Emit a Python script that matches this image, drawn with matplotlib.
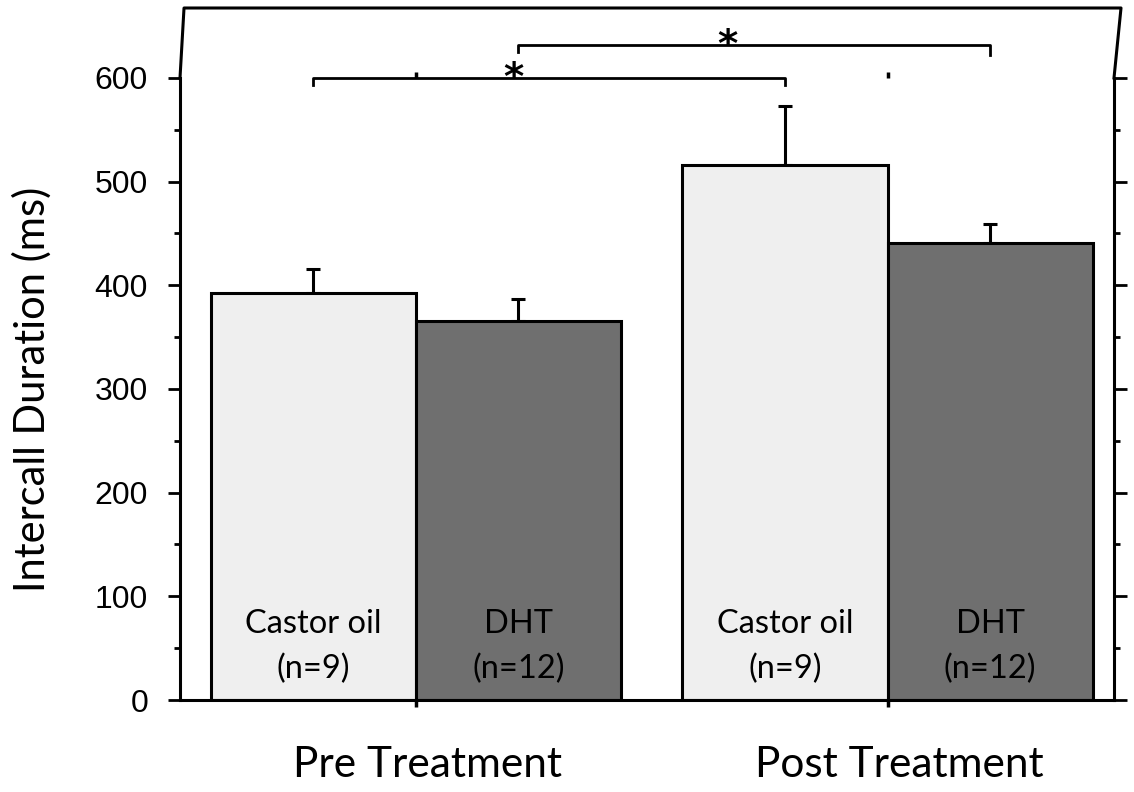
import numpy as np
import matplotlib.pyplot as plt

# Data
groups = ["Pre Treatment", "Post Treatment"]
castor_mean = [393, 516]
castor_err = [23, 57]
dht_mean = [366, 441]
dht_err = [21, 18]
castor_label = ["Castor oil", "(n=9)"]
dht_label = ["DHT", "(n=12)"]
sig_pairs = [(0, 1, 600), (0, 1, 632)]  # (pre idx, post idx, bracket height)

light = "#efefef"
dark = "#6f6f6f"
width = 0.435

fig = plt.figure(figsize=(11.34, 7.92), dpi=100)
ax = fig.add_axes([180 / 1134, 92 / 792, (1114 - 180) / 1134, (700 - 8) / 792])

x = np.arange(len(groups))
xc = x - width / 2
xd = x + width / 2

ax.bar(xc, castor_mean, width, color=light, edgecolor="black", linewidth=2.2, zorder=2)
ax.bar(xd, dht_mean, width, color=dark, edgecolor="black", linewidth=2.2, zorder=2)
ax.errorbar(xc, castor_mean, yerr=[np.zeros(2), castor_err], fmt="none", ecolor="black",
            elinewidth=2.2, capsize=5, capthick=2.2, zorder=1)
ax.errorbar(xd, dht_mean, yerr=[np.zeros(2), dht_err], fmt="none", ecolor="black",
            elinewidth=2.2, capsize=5, capthick=2.2, zorder=1)

# labels inside bars
for i in range(len(groups)):
    ax.text(xc[i], 73, castor_label[0], ha="center", va="center", fontsize=23.5, family="Lato")
    ax.text(xc[i], 30, castor_label[1], ha="center", va="center", fontsize=23.5, family="Lato")
    ax.text(xd[i], 73, dht_label[0], ha="center", va="center", fontsize=23.5, family="Lato")
    ax.text(xd[i], 30, dht_label[1], ha="center", va="center", fontsize=23.5, family="Lato")

# significance brackets
drop = 7
a, b, h = sig_pairs[0]
ax.plot([xc[a], xc[a], xc[b], xc[b]], [h - drop, h, h, h - drop], color="black", lw=2, clip_on=False)
ax.text((xc[a] + xc[b]) / 2 - 0.075, h - 12, "*", ha="center", va="baseline",
        fontsize=28, fontweight="bold")
a, b, h = sig_pairs[1]
ax.plot([xd[a], xd[a], xd[b], xd[b]], [h - drop, h, h, h - drop - 3], color="black", lw=2, clip_on=False)
ax.text((xd[a] + xd[b]) / 2 - 0.058, h - 12, "*", ha="center", va="baseline",
        fontsize=28, fontweight="bold")

# small top tick marks at 600
ax.vlines(x, 600, 606, color="black", lw=2.5)

ax.set_xlim(-0.5, 1.48)
ax.set_ylim(0, 667.5)
ax.set_yticks(np.arange(0, 601, 100))
ax.set_yticks(np.arange(50, 600, 100), minor=True)
ax.set_xticks(x)
ax.set_xticklabels([])
ax.tick_params(axis="y", which="major", direction="out", length=9, width=2,
               labelsize=23, pad=14, right=True)
ax.tick_params(axis="y", which="minor", direction="out", length=4.5, width=2, right=True)
ax.tick_params(axis="x", direction="out", length=5, width=2.5)
for lab in ax.get_yticklabels():
    lab.set_family("Liberation Sans")

for i, g in enumerate(groups):
    ax.text(x[i] + 0.025, -0.094, g, transform=ax.get_xaxis_transform(), ha="center",
            va="center", fontsize=30.5, family="Lato")

ax.set_ylabel("Intercall Duration (ms)", fontsize=30, family="Lato")
ax.yaxis.set_label_coords(-0.137, 300 / 667.5)

for s in ["left", "right", "bottom"]:
    ax.spines[s].set_linewidth(2.2)
ax.spines["left"].set_bounds(0, 600)
ax.spines["right"].set_bounds(0, 600)
ax.spines["top"].set_visible(False)

# odd frame above 600
top_frac = 600 / 667.5
ax.plot([0, 0.0043, 1.0075, 1.0], [top_frac, 1, 1, top_frac], transform=ax.transAxes,
        color="black", lw=2.2, clip_on=False)

fig.savefig("out.png", dpi=100)
